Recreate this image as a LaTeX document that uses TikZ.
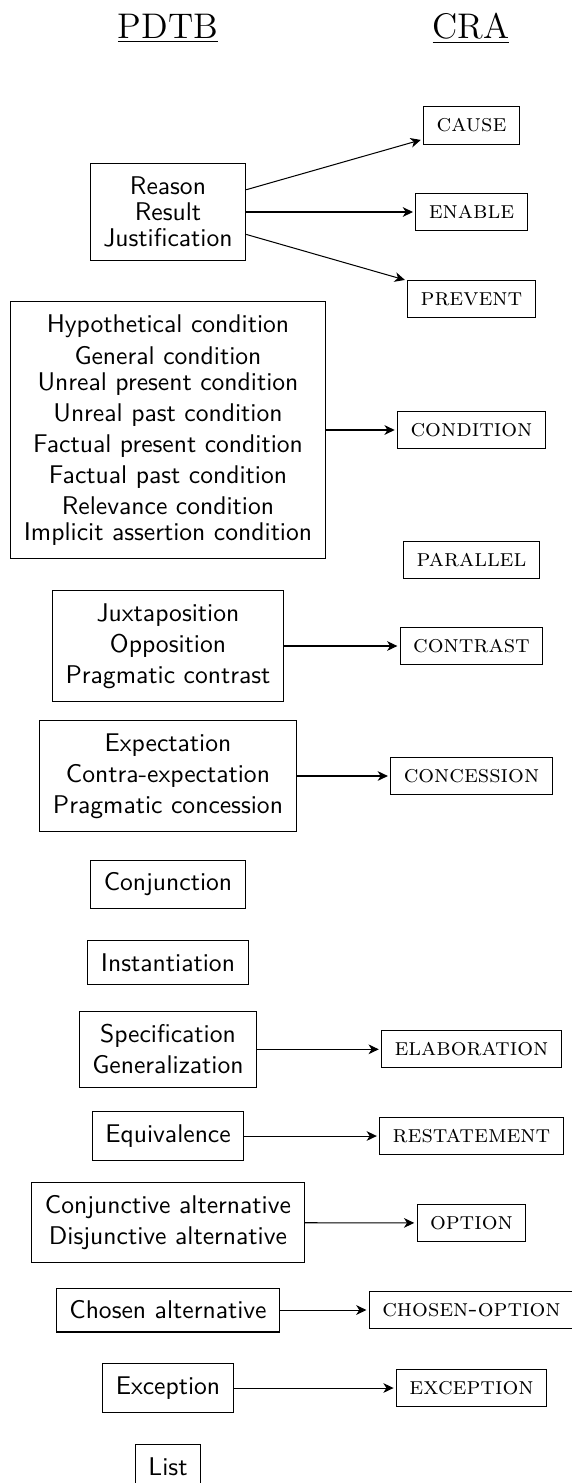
\documentclass[tikz,border=0pt]{standalone}
\usetikzlibrary{arrows.meta}
\begin{document}
\begin{tikzpicture}[x=0.3906pt,y=-0.3906pt,
  pbox/.style={draw, align=center, font=\sffamily, inner xsep=5.1pt, inner ysep=5pt,
    execute at begin node={\baselineskip=0pt\lineskiplimit=0pt\lineskip=3.2pt}},
  cbox/.style={draw, font=\fontsize{9.7}{12}\selectfont\scshape, minimum height=13.9pt, inner xsep=5.1pt, inner ysep=4.6pt},
  hd/.style={font=\fontsize{13.9}{17}\selectfont, anchor=base},
  arr/.style={-{Stealth[length=4pt,width=3.8pt,inset=1.2pt]}, shorten >=0.9pt}]
\useasboundingbox (0,0) rectangle (571,1483);
\node[hd] (pdtb) at (168,38.3) {\underline{PDTB}};
\node[hd] (cra) at (471,38.3) {\underline{CRA}};

\node[pbox] (reason) at (168,212) {Reason\\Result\\Justification};
\node[cbox] (cause) at (471.5,125.5) {cause};
\node[cbox] (enable) at (471.5,212) {enable};
\node[cbox] (prevent) at (471.5,299) {prevent};

\node[pbox] (hyp) at (168,430) {Hypothetical condition\\General condition\\Unreal present condition\\Unreal past condition\\Factual present condition\\Factual past condition\\Relevance condition\\Implicit assertion condition};
\node[cbox] (condition) at (471.5,430) {condition};
\node[cbox] (parallel) at (471.5,560) {parallel};

\node[pbox] (juxta) at (168,646) {Juxtaposition\\Opposition\\Pragmatic contrast};
\node[cbox] (contrast) at (471.5,646) {contrast};

\node[pbox] (expect) at (168,776) {Expectation\\Contra-expectation\\Pragmatic concession};
\node[cbox] (concession) at (471.5,776) {concession};

\node[pbox] (conj) at (168,884.5) {Conjunction};
\node[pbox] (inst) at (168,962.7) {Instantiation};

\node[pbox] (spec) at (168,1049.3) {Specification\\Generalization};
\node[cbox] (elab) at (471.5,1049.3) {elaboration};

\node[pbox] (equiv) at (168,1136) {Equivalence};
\node[cbox] (restate) at (471.5,1136) {restatement};

\node[pbox] (alt) at (168,1222.5) {Conjunctive alternative\\Disjunctive alternative};
\node[cbox] (option) at (471.5,1223) {option};

\node[pbox] (chosen) at (168,1310) {Chosen alternative};
\node[cbox] (chosenopt) at (471.5,1310) {chosen-option};

\node[pbox] (exc) at (168,1388) {Exception};
\node[cbox] (exception) at (471.5,1388) {exception};

\node[pbox] (list) at (168,1466.7) {List};

\draw[arr] (reason) -- (cause);
\draw[arr] (reason) -- (enable);
\draw[arr] (reason) -- (prevent);
\draw[arr] (hyp) -- (condition);
\draw[arr] (juxta) -- (contrast);
\draw[arr] (expect) -- (concession);
\draw[arr] (spec) -- (elab);
\draw[arr] (equiv) -- (restate);
\draw[arr] (alt) -- (option);
\draw[arr] (chosen) -- (chosenopt);
\draw[arr] (exc) -- (exception);
\end{tikzpicture}
\end{document}
